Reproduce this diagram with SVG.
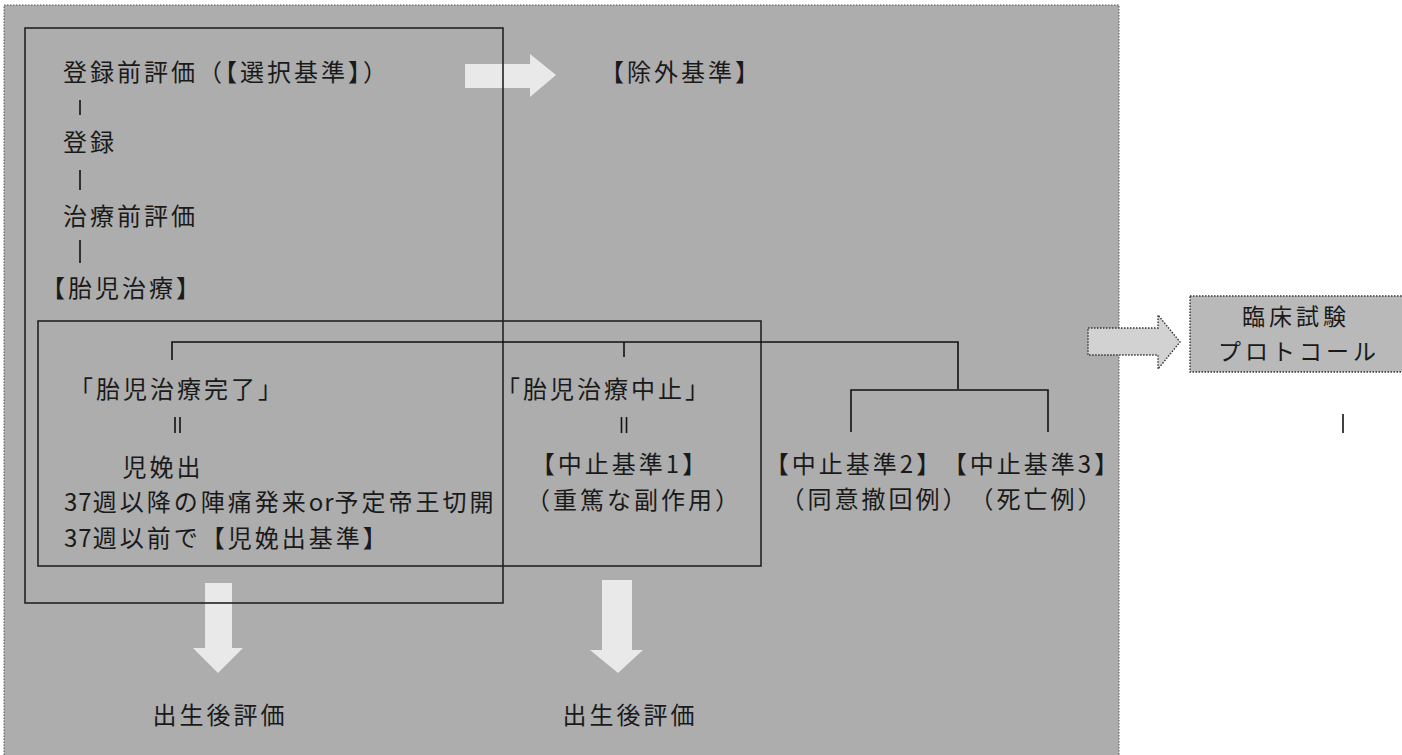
<svg xmlns="http://www.w3.org/2000/svg" width="1402" height="755" viewBox="0 0 1402 755">
  <style>
    .t { font-family: "Noto Sans CJK JP", "Noto Sans", sans-serif; font-size: 24px; letter-spacing: 3px; fill: #1a1a1a; }
    .m { text-anchor: middle; }
    .p { font-size: 23px; letter-spacing: 4px; }
    .lat { letter-spacing: 1px; }
    .ln { stroke: #111; stroke-width: 1.6; fill: none; }
    .box { fill: none; stroke: #222; stroke-width: 1.6; }
    .warrow { fill: #e9e9e9; stroke: none; }
    .darrow { fill: #d2d2d2; stroke: #333; stroke-width: 1.4; stroke-dasharray: 1.5 1.5; }
  </style>
  <rect width="1402" height="755" fill="#ffffff"/>
  <!-- background panel -->
  <rect id="panel" x="4" y="5" width="1115" height="760" fill="#adadad" stroke="#555" stroke-width="1" stroke-dasharray="1.5 1.5"/>

  <!-- block arrows -->
  <g id="arrows">
    <polygon class="warrow" points="465,64 530,64 530,54 556,75 530,97 530,88 465,88"/>
    <polygon class="warrow" points="205,583 232,583 232,648 243,648 218,673 193,648 205,648"/>
    <polygon class="warrow" points="602,580 632,580 632,650 643,650 618,673 590,650 602,650"/>
    <polygon class="darrow" points="1088,328 1158,328 1158,315 1180,342 1158,369 1158,355 1088,355"/>
  </g>

  <!-- frames -->
  <g id="frame1"><rect class="box" x="25" y="28" width="478" height="575"/></g>
  <g id="frame2"><rect class="box" x="38" y="321" width="723" height="245"/></g>

  <!-- connectors -->
  <g id="connectors" class="ln">
    <line x1="80" y1="100" x2="80" y2="115"/>
    <line x1="80" y1="170" x2="80" y2="190"/>
    <line x1="80" y1="240" x2="80" y2="263"/>
    <polyline points="172,360 172,342 958,342 958,389"/>
    <line x1="624" y1="342" x2="624" y2="357"/>
    <polyline points="851,432 851,390 1048,390 1048,432"/>
    <line x1="175" y1="417" x2="175" y2="433"/>
    <line x1="180" y1="417" x2="180" y2="433"/>
    <line x1="621.5" y1="417" x2="621.5" y2="433"/>
    <line x1="626.5" y1="417" x2="626.5" y2="433"/>
    <line x1="1343" y1="414" x2="1343" y2="433"/>
  </g>

  <!-- nodes -->
  <g id="pre-eval"><text class="t" x="63" y="81">登録前評価（【選択基準】）</text></g>
  <g id="exclusion"><text class="t m" x="681" y="81">【除外基準】</text></g>
  <g id="registration"><text class="t" x="63" y="151">登録</text></g>
  <g id="pre-treatment"><text class="t" x="63" y="225">治療前評価</text></g>
  <g id="fetal-treatment"><text class="t m" x="122" y="297">【胎児治療】</text></g>

  <g id="completed">
    <text class="t m" x="177" y="398">「胎児治療完了」</text>
    <text class="t m" x="163" y="476">児娩出</text>
    <text class="t" x="64" y="511"><tspan class="lat">37</tspan>週以降の陣痛発来<tspan class="lat">or</tspan>予定帝王切開</text>
    <text class="t" x="64" y="547"><tspan class="lat">37</tspan>週以前で【児娩出基準】</text>
  </g>

  <g id="discontinued">
    <text class="t m" x="604" y="398">「胎児治療中止」</text>
    <text class="t m" x="620" y="473">【中止基準1】</text>
    <text class="t m" x="634" y="509">（重篤な副作用）</text>
  </g>

  <g id="criterion2">
    <text class="t m" x="854" y="473">【中止基準2】</text>
    <text class="t m" x="875" y="508">（同意撤回例）</text>
  </g>
  <g id="criterion3">
    <text class="t m" x="1032" y="473">【中止基準3】</text>
    <text class="t m" x="1037" y="508">（死亡例）</text>
  </g>

  <g id="post-eval-1"><text class="t m" x="220" y="724">出生後評価</text></g>
  <g id="post-eval-2"><text class="t m" x="630" y="724">出生後評価</text></g>

  <g id="protocol">
    <rect x="1190" y="296" width="213" height="76" fill="#b9b9b9" stroke="#333" stroke-width="1.4" stroke-dasharray="1.5 1.5"/>
    <text class="t m p" x="1296" y="325">臨床試験</text>
    <text class="t m p" x="1299" y="360">プロトコール</text>
  </g>
</svg>
